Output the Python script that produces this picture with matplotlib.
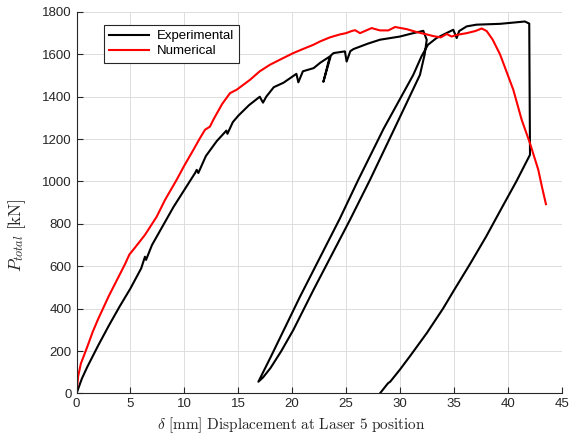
import numpy as np
import matplotlib
matplotlib.use("Agg")
import matplotlib.pyplot as plt

plt.rcParams["font.family"] = ["Liberation Sans", "DejaVu Sans"]
plt.rcParams["mathtext.fontset"] = "cm"

# experimental curve (load-unload-reload)
exp_x = [0, 0.5, 1.0, 2.0, 3.0, 4.0, 5.0, 6.0, 6.35, 6.45, 7.0, 8.0, 9.0, 10.0,
         11.0, 11.15, 11.3, 12.0, 13.0, 13.9, 14.0, 14.5, 15.0, 16.0, 17.0,
         17.3, 17.6, 18.3, 19.2, 20.4, 20.58, 21.0, 22.0, 22.6, 23.5, 22.9,
         23.6, 23.85, 24.9, 25.06, 25.4, 25.7, 27.0, 28.15, 30.0, 31.0, 32.17,
         # first unloading down to ~17 mm
         32.49, 32.3, 31.86, 29.5, 27.23, 25.37, 22.0, 20.11, 19.0, 18.0, 17.3,
         16.87,
         # reloading
         18.0, 20.73, 24.44, 26.14, 28.5, 31.24, 32.0, 32.6, 33.4,
         34.95, 35.27, 35.5, 36.2, 37.1, 39.3, 41.6, 42.0,
         # sudden drop and final unloading
         42.07, 40.8, 39.5, 38.0, 36.5, 35.0, 34.0, 32.5, 31.0, 30.0, 29.1,
         28.9, 28.15]
exp_y = [0, 70, 125, 225, 320, 410, 495, 590, 645, 630, 700, 790, 880, 960,
         1040, 1055, 1040, 1120, 1190, 1240, 1225, 1280, 1310, 1360, 1400,
         1372, 1400, 1445, 1466, 1508, 1468, 1520, 1535, 1560, 1590, 1470,
         1595, 1606, 1614, 1566, 1615, 1625, 1650, 1669, 1684, 1697, 1711,
         1669, 1600, 1503, 1250, 1008, 819, 490, 299, 200, 120, 75,
         55,
         170, 456, 826, 1008, 1250, 1503, 1590, 1645, 1677,
         1716, 1677, 1710, 1732, 1740, 1744, 1755, 1745,
         1126, 1000, 880, 740, 610, 485, 400, 285, 180, 112, 55,
         48, 0]

# numerical curve
num_x = [0, 0.15, 0.4, 1.0, 1.5, 2.0, 2.5, 3.0, 3.5, 4.0, 4.5, 4.9, 5.3,
         6.35, 7.44, 8.21, 9.29, 10.0, 10.84, 11.4, 11.92, 12.38, 12.69, 13.5,
         14.24, 14.86, 16.1, 17.0, 17.95, 19.0, 20.11, 21.0, 21.97, 22.6, 23.5,
         24.44, 25.0, 25.53, 25.84, 26.3, 27.38, 27.8, 28.15, 28.93, 29.55,
         30.63, 31.56, 32.5, 33.1, 33.8, 34.34, 34.8, 35.3, 36.2, 37.0, 37.59,
         38.05, 38.6, 39.29, 40.52, 41.3, 42.07, 42.84, 43.2, 43.55]
num_y = [0, 80, 140, 220, 290, 350, 405, 460, 510, 560, 610, 655, 680,
         748, 834, 913, 1008, 1075, 1149, 1200, 1244, 1259, 1291, 1365,
         1417, 1433, 1480, 1520, 1551, 1578, 1606, 1625, 1645, 1661, 1680,
         1694, 1700, 1710, 1714, 1700, 1724, 1718, 1713, 1713, 1729,
         1719, 1705, 1694, 1686, 1680, 1696, 1684, 1692, 1700, 1710, 1722,
         1710, 1670, 1600, 1433, 1291, 1180, 1055, 970, 893]

fig = plt.figure(figsize=(5.71, 4.43), dpi=100)
ax = fig.add_axes([0.134, 0.112, 0.8495, 0.861])

ax.plot(exp_x, exp_y, color="black", lw=1.5, label="Experimental")
ax.plot(num_x, num_y, color="#ff0000", lw=1.5, label="Numerical")

ax.set_xlim(0, 45)
ax.set_ylim(0, 1800)
ax.set_xticks(np.arange(0, 46, 5))
ax.set_yticks(np.arange(0, 1801, 200))
ax.grid(True, color="#dddddd", lw=0.7)
ax.set_axisbelow(True)
for s in ["top", "right"]:
    ax.spines[s].set_visible(False)
for s in ["left", "bottom"]:
    ax.spines[s].set_color("#262626")
    ax.spines[s].set_linewidth(0.8)
ax.tick_params(direction="in", length=4, width=0.8, colors="#262626",
               labelsize=9.5)

ax.set_xlabel(r"$\delta\ \mathrm{[mm]\ Displacement\ at\ Laser\ 5\ position}$",
              fontsize=11, color="#262626")
ax.xaxis.set_label_coords(0.444, -0.058)
ax.set_ylabel(r"$P_{total}\ \mathrm{[kN]}$", fontsize=12.5, color="#262626")
ax.yaxis.set_label_coords(-0.10, 0.415)

leg = ax.legend(loc="upper left", bbox_to_anchor=(0.057, 0.966),
                borderaxespad=0, fancybox=False, handlelength=3.0,
                handletextpad=0.6, fontsize=9.5, framealpha=1, borderpad=0.4,
                labelspacing=0.2)
leg.get_frame().set_edgecolor("#262626")
leg.get_frame().set_linewidth(0.8)

plt.savefig("out.png", dpi=100)
